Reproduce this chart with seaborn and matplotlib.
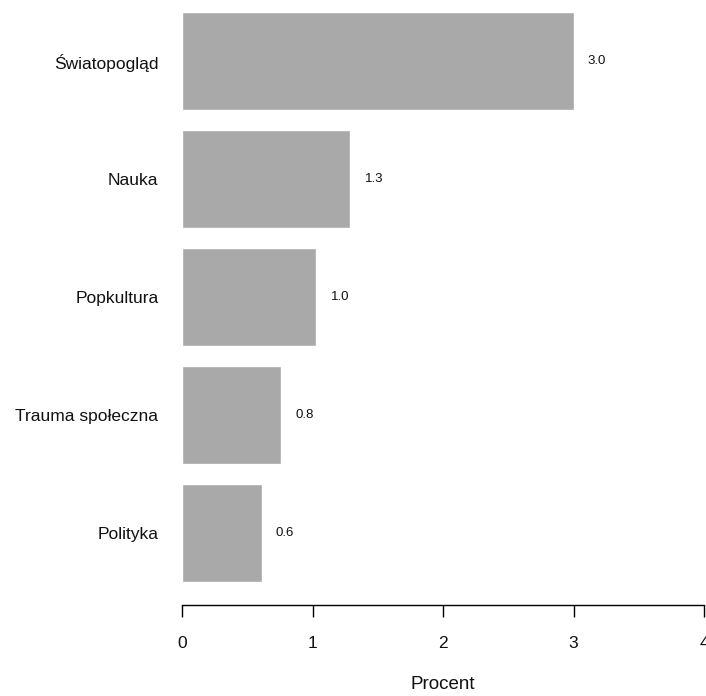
import numpy as np
import pandas as pd
import matplotlib
matplotlib.use('Agg')
import matplotlib.pyplot as plt
import seaborn as sns

# Data
categories = ['Światopogląd', 'Nauka', 'Popkultura', 'Trauma społeczna', 'Polityka']
values = [3.0, 1.29, 1.03, 0.76, 0.61]
value_labels = ['3.0', '1.3', '1.0', '0.8', '0.6']

df = pd.DataFrame({'Kategoria': categories, 'Procent': values})

sns.set_style('white')
plt.rcParams['font.family'] = ['Liberation Sans', 'DejaVu Sans']

fig = plt.figure(figsize=(7.06, 6.96), dpi=100)
ax = fig.add_axes([182 / 706, 1 - 605 / 696, (704 - 182) / 706, 605 / 696])

sns.barplot(data=df, x='Procent', y='Kategoria', color='#a9a9a9',
            saturation=1, width=0.83, ax=ax)

for i, (v, lab) in enumerate(zip(values, value_labels)):
    ax.text(v + 0.18, i, lab, ha='center', va='center', fontsize=9.5, color='#111111')

ax.set_xlim(0, 4)
ax.set_ylim(4.61, -0.517)
ax.set_xticks([0, 1, 2, 3, 4])
ax.set_xticklabels(['0', '1', '2', '3', '4'])

for s in ['top', 'right', 'left']:
    ax.spines[s].set_visible(False)
ax.spines['bottom'].set_bounds(0, 4)
ax.spines['bottom'].set_color('black')
ax.spines['bottom'].set_linewidth(1)

ax.tick_params(axis='x', bottom=True, direction='out', length=8.6, width=1,
               color='black', pad=14, labelsize=12.5, labelcolor='#111111')
ax.tick_params(axis='y', left=False, length=0, pad=17, labelsize=12.5,
               labelcolor='#111111')
ax.set_ylabel('')
ax.set_xlabel('Procent', fontsize=13.5, labelpad=18, color='#111111')

fig.savefig('out.png', dpi=100)
